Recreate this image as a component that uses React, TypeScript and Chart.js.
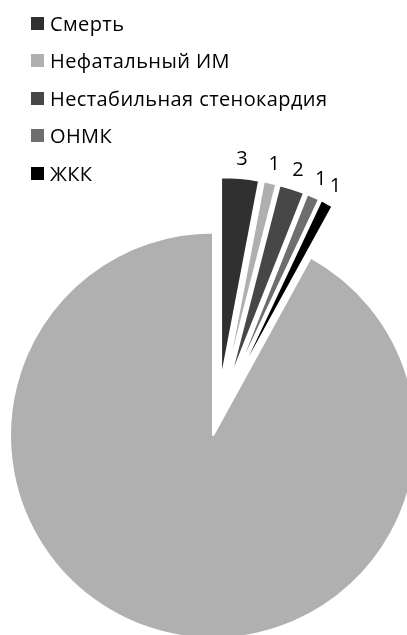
import React, { useEffect, useRef } from 'react';
import { Chart, registerables } from 'chart.js';

Chart.register(...registerables);

// ---- data ----
const CATEGORIES = ['Смерть', 'Нефатальный ИМ', 'Нестабильная стенокардия', 'ОНМК', 'ЖКК', 'Без событий'];
const VALUES = [3, 1, 2, 1, 1, 92];
const IN_LEGEND = [true, true, true, true, true, false];

// ---- styles ----
const COLORS = ['#303030', '#afafaf', '#474747', '#6e6e6e', '#000000', '#b0b0b0'];
const EXPLODE = [38, 38, 38, 38, 38, 18];
const FONT = '"Open Sans", sans-serif';
const FONT_SIZE = 20;

const explodePlugin = {
  id: 'explodeSlices',
  afterDatasetUpdate(chart: any, args: any) {
    const meta = chart.getDatasetMeta(args.index);
    meta.data.forEach((el: any, i: number) => {
      const mid = (el.startAngle + el.endAngle) / 2;
      const e = EXPLODE[i] || 0;
      el.x += Math.cos(mid) * e;
      el.y += Math.sin(mid) * e;
    });
  },
  afterDatasetsDraw(chart: any) {
    const ctx = chart.ctx;
    const meta = chart.getDatasetMeta(0);
    ctx.save();
    ctx.font = `${FONT_SIZE}px ${FONT}`;
    ctx.fillStyle = '#000';
    ctx.textAlign = 'center';
    ctx.textBaseline = 'middle';
    meta.data.forEach((el: any, i: number) => {
      if (!IN_LEGEND[i]) return;
      const mid = (el.startAngle + el.endAngle) / 2;
      const r = el.outerRadius + 19;
      ctx.fillText(String(VALUES[i]), el.x + Math.cos(mid) * r, el.y + Math.sin(mid) * r);
    });
    ctx.restore();
  },
};

export default function App() {
  const ref = useRef<HTMLCanvasElement | null>(null);

  useEffect(() => {
    if (!ref.current) return;
    const chart = new Chart(ref.current, {
      type: 'pie',
      data: {
        labels: CATEGORIES,
        datasets: [
          {
            data: VALUES,
            backgroundColor: COLORS,
            borderColor: '#ffffff',
            borderWidth: 2,
            radius: 203,
            clip: false,
          } as any,
        ],
      },
      options: {
        responsive: true,
        maintainAspectRatio: false,
        animation: false,
        events: [],
        layout: { padding: { left: 28, right: 0, top: 201, bottom: 0 } },
        plugins: {
          legend: { display: false },
          tooltip: { enabled: false },
        },
      },
      plugins: [explodePlugin],
    });
    return () => chart.destroy();
  }, []);

  const legendItems = CATEGORIES.map((c, i) => ({ c, i })).filter((d) => IN_LEGEND[d.i]);

  return (
    <div style={{ position: 'absolute', left: 0, top: 0, width: 407, height: 635, overflow: 'hidden', background: '#fff' }}>
      <canvas ref={ref} style={{ position: 'absolute', left: 0, top: 0 }} />
      <div style={{ position: 'absolute', left: 0, top: 0, width: 407 }}>
        {legendItems.map((d, k) => (
          <div
            key={d.c}
            style={{
              position: 'absolute',
              left: 31,
              top: 23.3 + k * 37.5 - 15,
              height: 30,
              display: 'flex',
              alignItems: 'center',
              whiteSpace: 'nowrap',
              fontFamily: FONT,
              fontSize: FONT_SIZE,
              letterSpacing: 0.4,
              color: '#000',
            }}
          >
            <span style={{ display: 'inline-block', width: 13, height: 13, background: COLORS[d.i], marginRight: 6 }} />
            <span>{d.c}</span>
          </div>
        ))}
      </div>
    </div>
  );
}
